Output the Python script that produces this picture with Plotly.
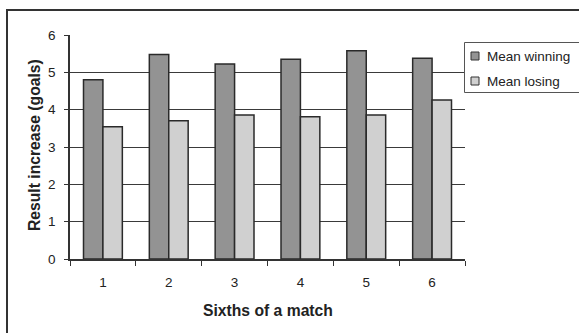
import plotly.graph_objects as go

categories = ["1", "2", "3", "4", "5", "6"]
mean_winning = [4.80, 5.48, 5.22, 5.35, 5.58, 5.38]
mean_losing = [3.54, 3.70, 3.86, 3.81, 3.86, 4.26]
series_names = ["Mean winning", "Mean losing"]
series_colors = ["#939393", "#d0d0d0"]
x_title = "Sixths of a match"
y_title = "Result increase (goals)"

FONT = "Liberation Sans, Arial, sans-serif"

fig = go.Figure()
for name, vals, col in zip(series_names, [mean_winning, mean_losing], series_colors):
    fig.add_trace(go.Bar(
        x=categories, y=vals, name=name,
        marker=dict(color=col, line=dict(color="#2a2a2a", width=1.5)),
        showlegend=False,
    ))

W, H = 579, 333
L, R, T, B = 70, 114, 35, 74
pw, ph = W - L - R, H - T - B

def px(x):
    return (x - L) / pw

def py(y):
    return (H - B - y) / ph

shapes = [
    # outer chart border (top and left visible)
    dict(type="rect", xref="paper", yref="paper",
         x0=px(7), x1=px(700), y0=py(500), y1=py(10),
         line=dict(color="#333333", width=2), layer="below"),
    # legend box
    dict(type="rect", xref="paper", yref="paper",
         x0=px(464.5), x1=px(700), y0=py(92.5), y1=py(42.5),
         line=dict(color="#555555", width=1), fillcolor="white"),
]
annotations = []
legend_rows = [56, 81]
for name, col, yc in zip(series_names, series_colors, legend_rows):
    shapes.append(dict(type="rect", xref="paper", yref="paper",
                       x0=px(471), x1=px(479), y0=py(yc + 4), y1=py(yc - 4),
                       line=dict(color="#333333", width=1), fillcolor=col))
    annotations.append(dict(text=name, xref="paper", yref="paper",
                            x=px(485), y=py(yc), xanchor="left", yanchor="middle",
                            showarrow=False, font=dict(family=FONT, size=13.5, color="#222222")))

annotations.append(dict(text="<b>" + x_title + "</b>", xref="paper", yref="paper",
                        x=0.5, y=py(310), xanchor="center", yanchor="middle",
                        showarrow=False, font=dict(family=FONT, size=15.7, color="#222222")))
annotations.append(dict(text="<b>" + y_title + "</b>", xref="paper", yref="paper",
                        x=px(34), y=py(145), xanchor="center", yanchor="middle",
                        textangle=-90,
                        showarrow=False, font=dict(family=FONT, size=15.7, color="#222222")))

fig.update_layout(
    width=W, height=H,
    margin=dict(l=L, r=R, t=T, b=B, pad=0),
    paper_bgcolor="white", plot_bgcolor="white",
    barmode="group", bargap=0.41, bargroupgap=0,
    font=dict(family=FONT, size=13.5, color="#222222"),
    shapes=shapes, annotations=annotations,
    xaxis=dict(
        type="category", range=[-0.5, 5.5],
        tickson="boundaries", ticks="outside", ticklen=5, tickwidth=1.2,
        tickcolor="#333333", showline=True, linecolor="#333333", linewidth=1.5,
        showgrid=False, ticklabelstandoff=10,
        tickfont=dict(family=FONT, size=13.5, color="#222222"),
    ),
    yaxis=dict(
        range=[0, 6], dtick=1, tick0=0,
        ticks="outside", ticklen=4, tickwidth=1.2, tickcolor="#333333",
        showline=True, linecolor="#333333", linewidth=1.5,
        showgrid=True, gridcolor="#3a3a3a", gridwidth=1, zeroline=False,
        ticklabelstandoff=6,
        tickfont=dict(family=FONT, size=13.5, color="#222222"),
    ),
)

fig.write_html("out.html", config={"displayModeBar": False},
               post_script="document.body.style.margin='0';document.body.style.overflow='hidden';")
